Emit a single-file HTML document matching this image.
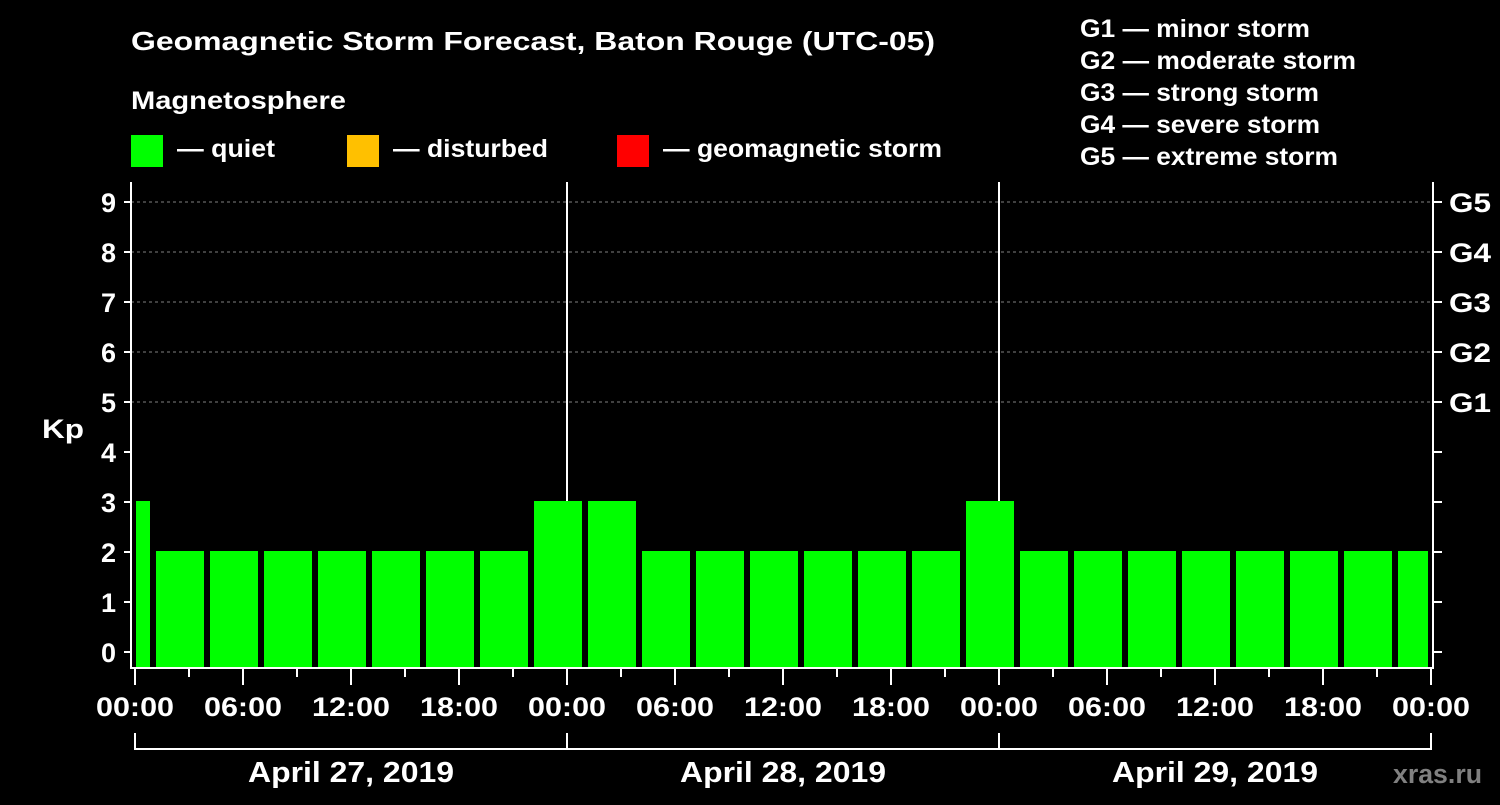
<!DOCTYPE html>
<html><head><meta charset="utf-8"><style>
body{margin:0;background:#000;}
svg text{font-family:"Liberation Sans",Arial,sans-serif;font-weight:bold;fill:#fff;}
</style></head><body>
<svg id="chart" width="1500" height="800" viewBox="0 0 1500 800" xmlns="http://www.w3.org/2000/svg">
<rect width="1500" height="800" fill="#000"/>
<text x="131" y="50" font-size="26" textLength="804" lengthAdjust="spacingAndGlyphs">Geomagnetic Storm Forecast, Baton Rouge (UTC-05)</text>
<text x="131" y="109" font-size="25" textLength="215" lengthAdjust="spacingAndGlyphs">Magnetosphere</text>
<g><rect x="131" y="135" width="32" height="32" fill="#00ff00"/><text x="177" y="157" font-size="25" textLength="98" lengthAdjust="spacingAndGlyphs">— quiet</text></g>
<g><rect x="347" y="135" width="32" height="32" fill="#ffc000"/><text x="393" y="157" font-size="25" textLength="155" lengthAdjust="spacingAndGlyphs">— disturbed</text></g>
<g><rect x="617" y="135" width="32" height="32" fill="#ff0000"/><text x="663" y="157" font-size="25" textLength="279" lengthAdjust="spacingAndGlyphs">— geomagnetic storm</text></g>
<g font-size="25">
<text x="1080" y="37" textLength="230" lengthAdjust="spacingAndGlyphs">G1 — minor storm</text>
<text x="1080" y="69" textLength="276" lengthAdjust="spacingAndGlyphs">G2 — moderate storm</text>
<text x="1080" y="101" textLength="239" lengthAdjust="spacingAndGlyphs">G3 — strong storm</text>
<text x="1080" y="133" textLength="240" lengthAdjust="spacingAndGlyphs">G4 — severe storm</text>
<text x="1080" y="165" textLength="258" lengthAdjust="spacingAndGlyphs">G5 — extreme storm</text>
</g>
<text x="63" y="438" font-size="27" text-anchor="middle" textLength="42" lengthAdjust="spacingAndGlyphs">Kp</text>
<g id="grid"></g><g id="bars"></g><g id="axes"></g>
<text x="1482" y="783" font-size="27" text-anchor="end" textLength="89" lengthAdjust="spacingAndGlyphs" style="fill:#808080">xras.ru</text>
</svg>
<script>
const kpValues=[3,2,2,2,2,2,2,2,3,3,2,2,2,2,2,2,3,2,2,2,2,2,2,2,2];
const barStartHours=[-2,1,4,7,10,13,16,19,22,25,28,31,34,37,40,43,46,49,52,55,58,61,64,67,70];
const dayLabels=["April 27, 2019","April 28, 2019","April 29, 2019"];
const hourLabels=["00:00","06:00","12:00","18:00"];
const gLabels=["G1","G2","G3","G4","G5"];
const NS="http://www.w3.org/2000/svg";
const X0=135,PXH=18,Y0=652,PXK=50,L=131,R=1433,T=182,B=668;
const xs=h=>X0+h*PXH, ys=k=>Y0-k*PXK;
function mk(tag,attrs,parent){const e=document.createElementNS(NS,tag);for(const k in attrs)e.setAttribute(k,attrs[k]);parent.appendChild(e);return e;}
const grid=document.getElementById('grid'),bars=document.getElementById('bars'),axes=document.getElementById('axes');
for(let k=5;k<=9;k++){const l=mk('line',{x1:L,x2:R,y1:ys(k),y2:ys(k),stroke:'#808080','stroke-width':1,'stroke-dasharray':'3,3'},grid);

}
for(let d=1;d<3;d++){const l=mk('line',{x1:xs(24*d),x2:xs(24*d),y1:T,y2:B,stroke:'#fff','stroke-width':2},grid);

}
kpValues.forEach((v,i)=>{let x1=xs(barStartHours[i])+3,x2=xs(barStartHours[i]+3)-3;x1=Math.max(x1,136);x2=Math.min(x2,1428);
const color=v>=5?'#ff0000':(v>=4?'#ffc000':'#00ff00');
const r=mk('rect',{x:x1,y:ys(v)-1,width:x2-x1,height:B-ys(v)+1,fill:color},bars);

});
mk('path',{d:`M${L},${T}V${B}H${R}V${T}`,stroke:'#fff','stroke-width':2,fill:'none'},axes);
for(let k=0;k<=9;k++){mk('line',{x1:124,x2:L,y1:ys(k),y2:ys(k),stroke:'#fff','stroke-width':2},axes);
mk('line',{x1:R,x2:1442,y1:ys(k),y2:ys(k),stroke:'#fff','stroke-width':2},axes);
const t=mk('text',{x:116,y:ys(k)+10,'font-size':27,'text-anchor':'end'},axes);t.textContent=k;

}
gLabels.forEach((g,i)=>{const t=mk('text',{x:1449,y:ys(5+i)+10,'font-size':27,textLength:42,lengthAdjust:'spacingAndGlyphs'},axes);t.textContent=g;

});
for(let h=0;h<=72;h+=3){const major=h%6===0;mk('line',{x1:xs(h),x2:xs(h),y1:B,y2:major?685:677,stroke:'#fff','stroke-width':2},axes);
if(major){const t=mk('text',{x:xs(h),y:716,'font-size':27,'text-anchor':'middle',textLength:78,lengthAdjust:'spacingAndGlyphs'},axes);t.textContent=hourLabels[(h/6)%4];

}}
mk('path',{d:`M${xs(0)},733V749H${xs(72)}V733`,stroke:'#fff','stroke-width':2,fill:'none'},axes);
for(let d=1;d<3;d++)mk('line',{x1:xs(24*d),x2:xs(24*d),y1:733,y2:749,stroke:'#fff','stroke-width':2},axes);
dayLabels.forEach((s,i)=>{const t=mk('text',{x:xs(24*i+12),y:782,'font-size':29,'text-anchor':'middle',textLength:206,lengthAdjust:'spacingAndGlyphs'},axes);t.textContent=s;

});
</script>
</body></html>
